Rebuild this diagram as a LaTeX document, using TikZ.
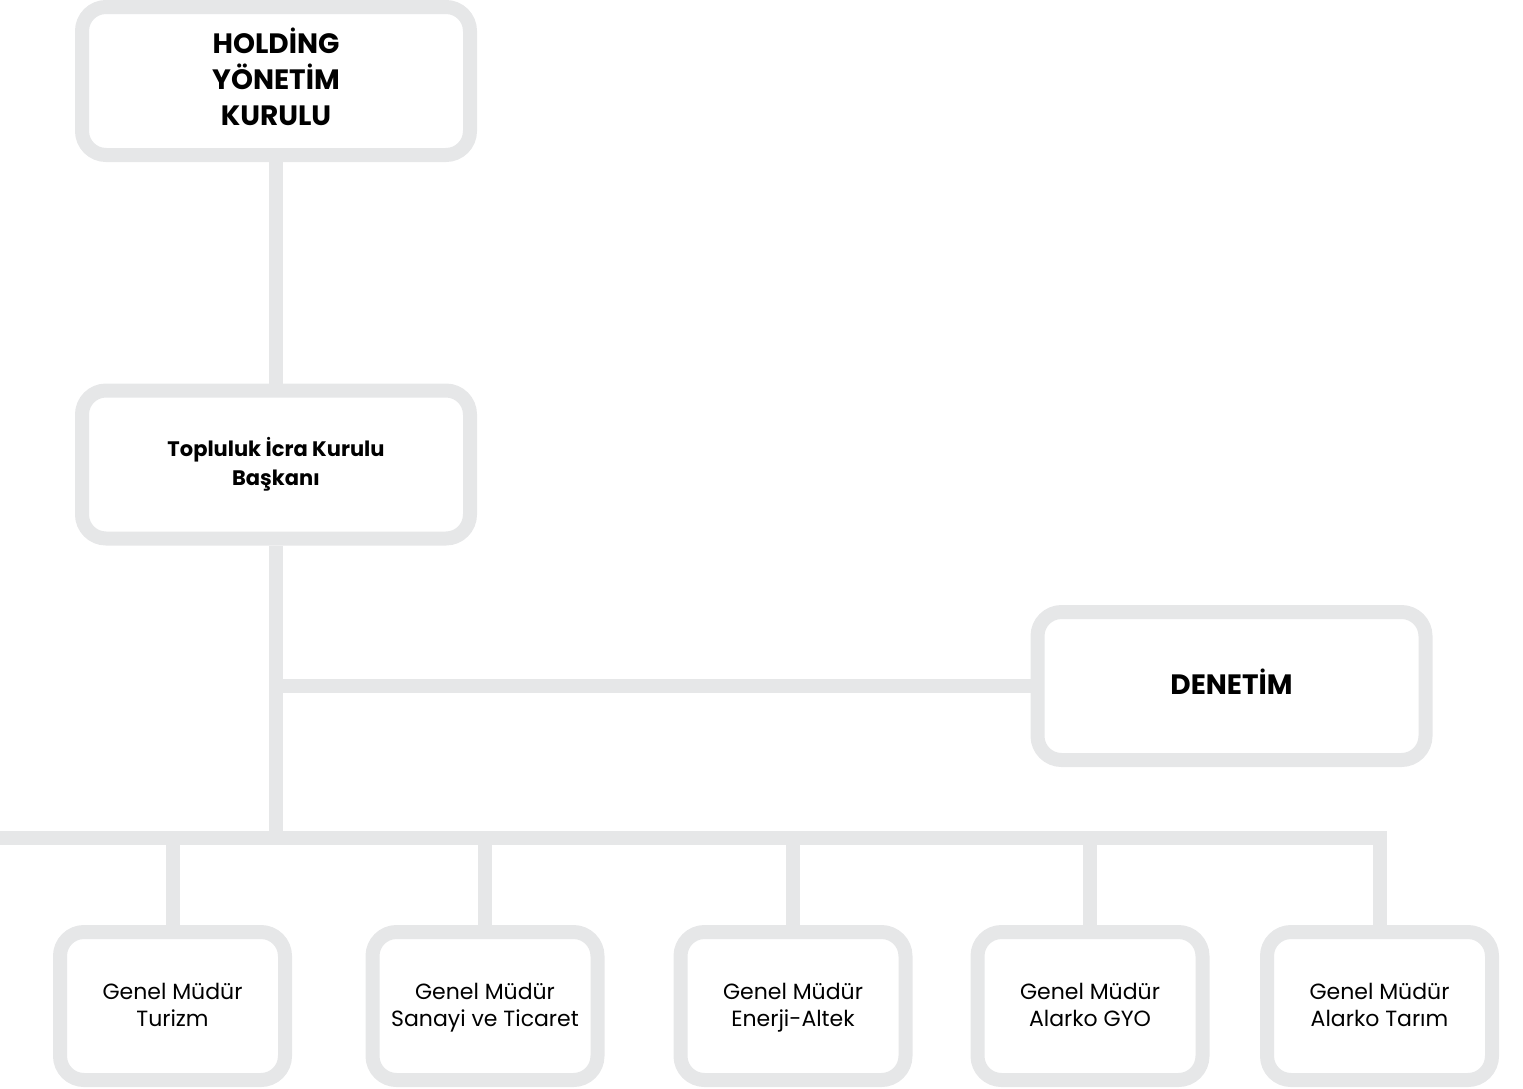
\documentclass[tikz,border=0pt]{standalone}
\usepackage{fontspec}
\setmainfont{Poppins}
\definecolor{lg}{RGB}{230,231,232}
\newcommand\topstrut{\rule{0pt}{0.95em}}
\newcommand\botstrut{\rule[-0.35em]{0pt}{0.35em}}
\begin{document}
\begin{tikzpicture}[x=1pt,y=-1pt,
  box/.style={draw=lg, line width=14pt, rounded corners=24pt, fill=white, inner sep=0pt, align=center, text=black},
  big/.style={box, minimum width=388pt, minimum height=148pt},
  small/.style={box, minimum width=225pt, minimum height=148pt, font=\fontsize{22}{27}\selectfont},
  conn/.style={draw=lg, line width=14pt}]
\useasboundingbox (0,0) rectangle (1523,1088);
\node[big, font=\fontsize{28}{36}\selectfont\bfseries] (hold) at (276,81) {\topstrut HOLDİNG\\YÖNETİM\\KURULU\botstrut};
\node[big, font=\fontsize{21}{29}\selectfont\bfseries] (tik) at (276,464.5) {\topstrut Topluluk İcra Kurulu\\Başkanı\botstrut};
\node[big, font=\fontsize{28}{36}\selectfont\bfseries] (den) at (1231.5,686) {\topstrut DENETİM\botstrut};
\node[small] (b1) at (172.5,1006) {\topstrut Genel Müdür\\Turizm\botstrut};
\node[small] (b2) at (485,1006) {\topstrut Genel Müdür\\Sanayi ve Ticaret\botstrut};
\node[small] (b3) at (793,1006) {\topstrut Genel Müdür\\Enerji-Altek\botstrut};
\node[small] (b4) at (1090,1006) {\topstrut Genel Müdür\\Alarko GYO\botstrut};
\node[small] (b5) at (1379.5,1006) {\topstrut Genel Müdür\\Alarko Tarım\botstrut};
\coordinate (busL) at (0,838);
\draw[conn] (hold.south) -- (tik.north);
\draw[conn] (tik.south) -- (tik.south |- busL);
\draw[conn] (tik.south |- den.west) -- (den.west);
\draw[conn] (busL) -- (b5.north |- busL) -- (b5.north);
\foreach \b in {b1,b2,b3,b4}{\draw[conn] (\b.north |- busL) -- (\b.north);}
\end{tikzpicture}
\end{document}
